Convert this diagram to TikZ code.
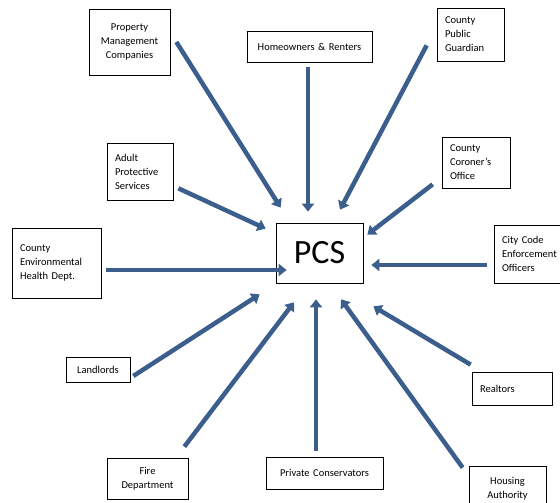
\documentclass[tikz,border=0pt]{standalone}
\usepackage{fontspec}
\setmainfont{Carlito}
\usetikzlibrary{arrows.meta}
\hyphenpenalty=10000
\definecolor{arrowblue}{RGB}{59,94,140}
\tikzset{
  srcbox/.style={draw=black, line width=0.7pt, inner xsep=8pt, inner ysep=2pt,
    font=\fontsize{10.5}{14}\selectfont},
  feed/.style={draw=arrowblue, line width=4.5pt, -{Triangle[length=8pt,width=12pt]}}
}
\def\agency#1#2#3#4#5#6#7{
  % 1: name
  % 2: x left
  % 3: y top
  % 4: x right
  % 5: y bottom
  % 6: align
  % 7: text
  \pgfmathsetmacro\bw{#4-#2}
  \pgfmathsetmacro\bh{#5-#3}
  \pgfmathsetmacro\tw{#4-#2-16}
  \node[srcbox, align=#6, minimum width=\bw pt, minimum height=\bh pt, text width=\tw pt]
    (#1) at ({(#2+#4)/2},{(#3+#5)/2}) {#7};
}
\def\feed#1#2#3#4{
  % 1: source anchor
  % 2: shift at source
  % 3: anchor of pcs
  % 4: shift at pcs
  \draw[feed] ([shift={#2}]#1) -- ([shift={#4}]pcs.#3);
}
\begin{document}
\begin{tikzpicture}[x=1pt,y=-1pt]
  \useasboundingbox (0,0) rectangle (560,503);
  \clip (0,0) rectangle (560,503);

  \node[draw=black, line width=0.7pt, minimum width=87pt, minimum height=60pt,
    font=\fontsize{34}{40}\selectfont] (pcs) at (319.5,253) {PCS};

  % \agency{name}{x1}{y1}{x2}{y2}{align}{text}
  \agency{prop}{89}{9}{170}{75}{center}{Property Management Companies}
  \agency{home}{247}{31}{372}{62}{center}{Homeowners \& Renters}
  \agency{guard}{437}{8}{504}{61}{left}{County Public Guardian}
  \agency{aps}{107}{143}{173}{200}{left}{Adult Protective Services}
  \agency{coro}{442}{137}{510}{188}{left}{County Coroner’s Office}
  \agency{env}{12}{228}{101}{298}{left}{County Environmental Health Dept.}
  \agency{city}{494}{225}{590}{283}{left}{City Code Enforcement Officers}
  \agency{land}{66}{357}{130}{382}{center}{Landlords}
  \agency{real}{472}{372}{552}{405}{left}{Realtors}
  \agency{fire}{107}{458}{188}{499}{center}{Fire Department}
  \agency{priv}{266}{457}{383}{489}{center}{Private Conservators}
  \agency{hous}{469}{466}{546}{512}{center}{Housing Authority}

  % \feed{from}{shift}{pcs anchor}{shift}
  \feed{prop.east}{(6,0)}{north west}{(5,-15)}
  \feed{home.south}{(-1.5,5)}{north}{(-11.5,-11)}
  \feed{guard.south west}{(-10,-16)}{north}{(20.5,-13)}
  \feed{aps.south east}{(5,-12)}{north west}{(-10,6)}
  \feed{coro.south west}{(-9,-4)}{north east}{(4,12)}
  \feed{env.east}{(5,7)}{west}{(11,17)}
  \feed{city.west}{(-7,11)}{east}{(8,12)}
  \feed{land.east}{(3,6.5)}{south west}{(-16,11)}
  \feed{fire.north east}{(-4,-11)}{south}{(-25.5,19)}
  \feed{priv.north}{(-8.5,-6)}{south}{(-3.5,16)}
  \feed{hous.north west}{(-6,2)}{south}{(21.5,16)}
  \feed{real.north west}{(-1,-7)}{south east}{(10,23)}
\end{tikzpicture}
\end{document}
